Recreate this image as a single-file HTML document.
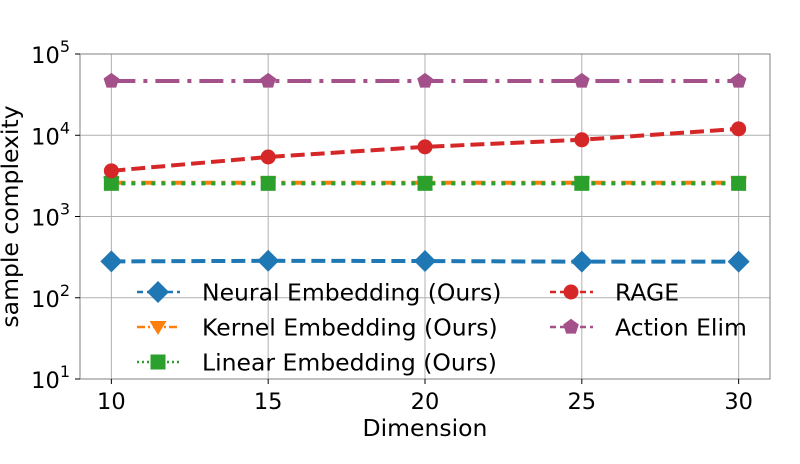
<!DOCTYPE html>
<html><head><meta charset="utf-8"><style>
body{margin:0;background:#fff;width:800px;height:459px;overflow:hidden}
text{font-family:"DejaVu Sans","Liberation Sans",sans-serif;fill:#000}
</style></head><body>
<svg id="chart" width="800" height="459" xmlns="http://www.w3.org/2000/svg"></svg>
<script>
const dims=[10,15,20,25,30];
const neural=[280,285,283,278,278];
const kernel=[2600,2600,2600,2600,2600];
const linear=[2560,2560,2560,2560,2560];
const rage=[3650,5400,7200,8800,12000];
const actionElim=[46500,46500,46500,46500,46500];
const xTicks=[10,15,20,25,30];
const yExps=[1,2,3,4,5];

const svg=document.getElementById('chart');
const NS='http://www.w3.org/2000/svg';
const L=80,R=770,T=54,B=379;
const xs=v=>L+(v-9)/(31-9)*(R-L);
const ys=v=>B-(Math.log10(v)-1)/4*(B-T);
function el(tag,attrs,parent){const e=document.createElementNS(NS,tag);for(const k in attrs)e.setAttribute(k,attrs[k]);(parent||svg).appendChild(e);return e;}

const grid=el('g',{});


xTicks.forEach(t=>el('line',{x1:xs(t),x2:xs(t),y1:T,y2:B,stroke:'#b0b0b0','stroke-width':1},grid));
yExps.forEach(e=>el('line',{x1:L,x2:R,y1:ys(Math.pow(10,e)),y2:ys(Math.pow(10,e)),stroke:'#b0b0b0','stroke-width':1},grid));

function marker(g,type,x,y,color,s){
  if(type==='D')el('polygon',{points:`${x},${y-s} ${x+s},${y} ${x},${y+s} ${x-s},${y}`,fill:color},g);
  else if(type==='v')el('polygon',{points:`${x-s*0.85},${y-s*0.6} ${x+s*0.85},${y-s*0.6} ${x},${y+s*0.8}`,fill:color},g);
  else if(type==='s')el('rect',{x:x-s*0.75,y:y-s*0.75,width:s*1.5,height:s*1.5,fill:color},g);
  else if(type==='o')el('circle',{cx:x,cy:y,r:s*0.75,fill:color},g);
  else if(type==='p'){let p=[];for(let i=0;i<5;i++){const a=-Math.PI/2+i*2*Math.PI/5;p.push((x+s*0.82*Math.cos(a))+','+(y+s*0.82*Math.sin(a)));}el('polygon',{points:p.join(' '),fill:color},g);}
}
const series=[
 {name:'series-neural',data:neural,color:'#1f77b4',dash:'14,6',m:'D',s:11,label:'Neural Embedding (Ours)'},
 {name:'series-kernel',data:kernel,color:'#ff7f0e',dash:'14,6,4,6',m:'v',s:10,label:'Kernel Embedding (Ours)'},
 {name:'series-linear',data:linear,color:'#2ca02c',dash:'4,6',m:'s',s:10,label:'Linear Embedding (Ours)'},
 {name:'series-rage',data:rage,color:'#d62728',dash:'14,6',m:'o',s:10,label:'RAGE'},
 {name:'series-action-elim',data:actionElim,color:'#a4508b',dash:'24,8,4,8',m:'p',s:10,label:'Action Elim'}
];
series.forEach(sr=>{
  const g=el('g',{});
  
  
  const pts=dims.map((d,i)=>xs(d)+','+ys(sr.data[i])).join(' ');
  el('polyline',{points:pts,fill:'none',stroke:sr.color,'stroke-width':4,'stroke-dasharray':sr.dash},g);
  dims.forEach((d,i)=>marker(g,sr.m,xs(d),ys(sr.data[i]),sr.color,sr.s));
});

const frame=el('rect',{x:L,y:T,width:R-L,height:B-T,fill:'none',stroke:'#808080','stroke-width':1});



xTicks.forEach(t=>{
  el('line',{x1:xs(t),x2:xs(t),y1:B,y2:B+5,stroke:'#000'});
  const tx=el('text',{x:xs(t),y:B+30,'font-size':22.5,'text-anchor':'middle'});tx.textContent=t;
  
  
});
yExps.forEach(e=>{
  const y=ys(Math.pow(10,e));
  el('line',{x1:L-5,x2:L,y1:y,y2:y,stroke:'#000'});
  const tx=el('text',{x:L-10,y:y+9,'font-size':22.5,'text-anchor':'end'});
  tx.innerHTML='10<tspan dy="-11" font-size="16">'+e+'</tspan>';
  
  
});
const xt=el('text',{x:(L+R)/2,y:436,'font-size':23.5,'text-anchor':'middle'});xt.textContent='Dimension';


const yt=el('text',{x:0,y:0,'font-size':23.5,'text-anchor':'middle',transform:`translate(18,${(T+B)/2}) rotate(-90)`});yt.textContent='sample complexity';



const lg=el('g',{});


const pos=[[137,292],[137,327],[137,362],[550,292],[550,327]];
series.forEach((sr,i)=>{
  const [x,y]=pos[i];
  const g=el('g',{},lg);
  
  
  el('line',{x1:x,x2:x+43,y1:y,y2:y,stroke:sr.color,'stroke-width':2.5,'stroke-dasharray':sr.m==='s'?'2,3':(sr.m==='v'?'8,3,2,3':'6,4')},g);
  marker(g,sr.m,x+21,y,sr.color,sr.s);
  const t=el('text',{x:x+65,y:y+8.5,'font-size':23.5},g);t.textContent=sr.label;
});
</script>
</body></html>
